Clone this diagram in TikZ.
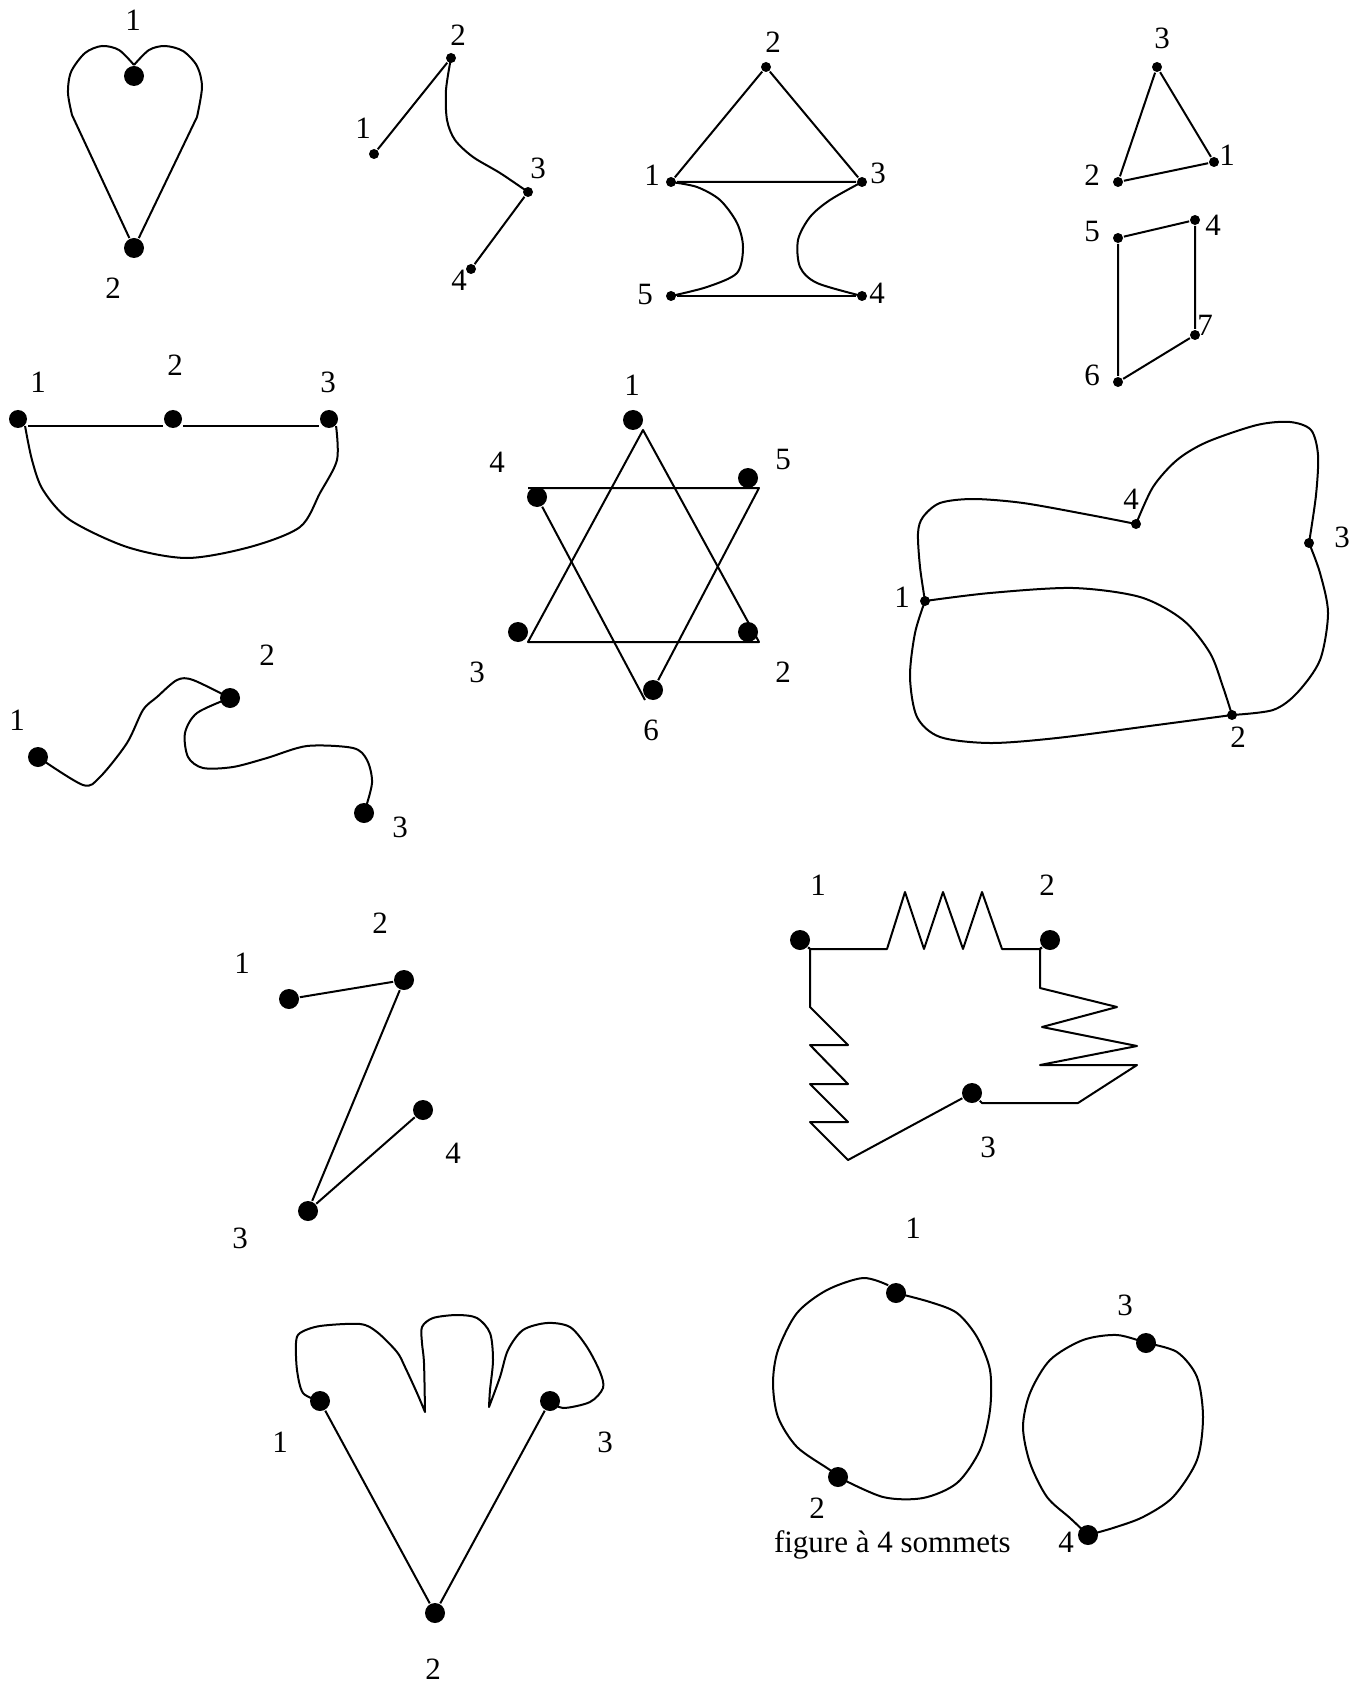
\documentclass[tikz,border=0pt]{standalone}
\usepackage{fontspec}
\setmainfont{Liberation Serif}
\tikzset{
    bigdot/.style={circle, fill, inner sep=0pt, minimum size=10pt},
    smalldot/.style={circle, fill, inner sep=0pt, minimum size=5pt},
    num/.style={inner sep=0pt, font=\fontsize{15.5}{18}\selectfont},
}

\begin{document}
\begin{tikzpicture}[x=0.5pt, y=-0.5pt, line width=1pt, line join=round]
    \useasboundingbox (0,0) rectangle (1364,1684);

    % heart
    \node[bigdot] (h1) at (134,76) {};
    \node[bigdot] (h2) at (134,248) {};
    \node[num] (h1l) at (133,20) {1};
    \node[num] (h2l) at (113,288) {2};
    \draw plot[smooth] coordinates {(h1.north) (119,50) (102,46) (85,53) (71,72) (68,93) (72,115)} -- (h2);
    \draw plot[smooth] coordinates {(h1.north) (149,50) (165,46) (183,51) (197,66) (202,87) (197,117)} -- (h2);

    % path 1-2-3-4
    \node[smalldot] (p1) at (374,154) {};
    \node[smalldot] (p2) at (451,58) {};
    \node[smalldot] (p3) at (528,192) {};
    \node[smalldot] (p4) at (471,269) {};
    \node[num] (p1l) at (363,128) {1};
    \node[num] (p2l) at (458,35) {2};
    \node[num] (p3l) at (538,168) {3};
    \node[num] (p4l) at (459,280) {4};
    \draw (p1) -- (p2);
    \draw plot[smooth] coordinates {(p2) (446,90) (447,120) (455,140) (473,157) (500,173) (p3)};
    \draw (p3) -- (p4);

    % triangle over hourglass
    \node[smalldot] (q1) at (671,182) {};
    \node[smalldot] (q2) at (766,67) {};
    \node[smalldot] (q3) at (862,182) {};
    \node[smalldot] (q4) at (862,296) {};
    \node[smalldot] (q5) at (671,296) {};
    \node[num] (q1l) at (652,175) {1};
    \node[num] (q2l) at (773,42) {2};
    \node[num] (q3l) at (878,173) {3};
    \node[num] (q4l) at (877,293) {4};
    \node[num] (q5l) at (645,295) {5};
    \draw (q1) -- (q2) -- (q3) -- (q1);
    \draw (q5) -- (q4);
    \draw plot[smooth] coordinates {(q1) (697,187) (720,200) (737,223) (743,247) (737,273) (707,287) (q5)};
    \draw plot[smooth] coordinates {(q3) (830,200) (810,217) (798,240) (800,267) (817,283) (q4)};

    % triangle and quadrilateral
    \node[smalldot] (r1) at (1214,162) {};
    \node[smalldot] (r2) at (1118,182) {};
    \node[smalldot] (r3) at (1157,67) {};
    \node[smalldot] (r4) at (1195,220) {};
    \node[smalldot] (r5) at (1118,238) {};
    \node[smalldot] (r6) at (1118,382) {};
    \node[smalldot] (r7) at (1195,335) {};
    \node[num] (r1l) at (1227,155) {1};
    \node[num] (r2l) at (1092,175) {2};
    \node[num] (r3l) at (1162,38) {3};
    \node[num] (r4l) at (1213,225) {4};
    \node[num] (r5l) at (1092,232) {5};
    \node[num] (r6l) at (1092,375) {6};
    \node[num] (r7l) at (1205,325) {7};
    \draw (r1) -- (r2) -- (r3) -- (r1);
    \draw (r5) -- (r4) -- (r7) -- (r6) -- (r5);

    % bowl
    \node[bigdot, minimum size=9pt] (s1) at (18,419) {};
    \node[bigdot, minimum size=9pt] (s2) at (173,419) {};
    \node[bigdot, minimum size=9pt] (s3) at (329,419) {};
    \node[num] (s1l) at (38,382) {1};
    \node[num] (s2l) at (175,365) {2};
    \node[num] (s3l) at (328,382) {3};
    \draw ([yshift=-3.5pt]s1.east) -- ([yshift=-3.5pt]s2.west);
    \draw ([yshift=-3.5pt]s2.east) -- ([yshift=-3.5pt]s3.west);
    \draw plot[smooth] coordinates {(s1.south east) (32,460) (43,490) (70,520) (127,547) (187,558) (250,547) (300,527) (320,493) (337,460) (s3.south east)};

    % star
    \node[bigdot] (t1) at (633,420) {};
    \node[bigdot] (t2) at (748,632) {};
    \node[bigdot] (t3) at (518,632) {};
    \node[bigdot] (t4) at (537,497) {};
    \node[bigdot] (t5) at (748,478) {};
    \node[bigdot] (t6) at (653,690) {};
    \node[num] (t1l) at (632,385) {1};
    \node[num] (t2l) at (783,672) {2};
    \node[num] (t3l) at (477,672) {3};
    \node[num] (t4l) at (497,462) {4};
    \node[num] (t5l) at (783,460) {5};
    \node[num] (t6l) at (651,730) {6};
    \coordinate (ta) at (643,430);
    \coordinate (tb) at (528,642);
    \coordinate (tc) at (759,642);
    \coordinate (td) at (528,488);
    \coordinate (te) at (759,488);
    \coordinate (tf) at (645,700);
    \draw (ta) -- (tb) -- (tc) -- cycle;
    \draw (td) -- (te) -- (t6);
    \draw (t4) -- (tf);

    % blob
    \node[smalldot] (b1) at (925,601) {};
    \node[smalldot] (b2) at (1232,715) {};
    \node[smalldot] (b3) at (1309,543) {};
    \node[smalldot] (b4) at (1136,524) {};
    \node[num] (b1l) at (902,597) {1};
    \node[num] (b2l) at (1238,737) {2};
    \node[num] (b3l) at (1342,537) {3};
    \node[num] (b4l) at (1131,499) {4};
    \draw plot[smooth] coordinates {(b1) (920,567) (918,533) (923,517) (940,503) (973,499) (1023,503) (1090,515) (b4)};
    \draw plot[smooth] coordinates {(b4) (1153,487) (1177,460) (1207,442) (1257,425) (1290,422) (1311,430) (1318,455) (1316,495) (b3)};
    \draw plot[smooth] coordinates {(b3) (1320,573) (1328,613) (1320,660) (1297,693) (1273,710) (b2)};
    \draw plot[smooth] coordinates {(b2) (1157,725) (1057,738) (990,743) (940,737) (917,717) (910,677) (915,633) (b1)};
    \draw plot[smooth] coordinates {(b1) (990,593) (1073,588) (1140,597) (1183,620) (1210,653) (1223,687) (b2)};

    % wave
    \node[bigdot] (w1) at (38,757) {};
    \node[bigdot] (w2) at (230,698) {};
    \node[bigdot] (w3) at (364,813) {};
    \node[num] (w1l) at (17,720) {1};
    \node[num] (w2l) at (267,655) {2};
    \node[num] (w3l) at (400,827) {3};
    \draw plot[smooth] coordinates {(w1) (83,785) (100,777) (127,743) (143,710) (157,697) (177,680) (193,680) (w2)};
    \draw plot[smooth] coordinates {(w2) (197,713) (185,733) (188,757) (203,768) (233,767) (267,758) (307,746) (353,748) (367,760) (372,783) (w3)};

    % z shape
    \node[bigdot] (k1) at (289,999) {};
    \node[bigdot] (k2) at (404,980) {};
    \node[bigdot] (k3) at (308,1211) {};
    \node[bigdot] (k4) at (423,1110) {};
    \node[num] (k1l) at (242,963) {1};
    \node[num] (k2l) at (380,923) {2};
    \node[num] (k3l) at (240,1238) {3};
    \node[num] (k4l) at (453,1153) {4};
    \draw (k1) -- (k2) -- (k3) -- (k4);

    % zigzags
    \node[bigdot] (g1) at (800,940) {};
    \node[bigdot] (g2) at (1050,940) {};
    \node[bigdot] (g3) at (972,1093) {};
    \node[num] (g1l) at (818,885) {1};
    \node[num] (g2l) at (1047,885) {2};
    \node[num] (g3l) at (988,1147) {3};
    \draw (g1) -- (810,949) -- (887,949) -- (905,892) -- (924,949) -- (943,892) -- (963,949)
        -- (982,892) -- (1002,949) -- (1040,949) -- (g2);
    \draw (g2) -- (1040,949) -- (1040,988) -- (1117,1007) -- (1042,1027) -- (1137,1046)
        -- (1040,1065) -- (1137,1065) -- (1078,1103) -- (982,1103) -- (g3);
    \draw (g1) -- (810,949) -- (810,1007) -- (848,1045) -- (810,1045) -- (848,1084) -- (810,1084)
        -- (848,1122) -- (810,1122) -- (848,1160) -- (g3);

    % hand
    \node[bigdot] (f1) at (320,1401) {};
    \node[bigdot] (f2) at (435,1613) {};
    \node[bigdot] (f3) at (550,1401) {};
    \node[num] (f1l) at (280,1442) {1};
    \node[num] (f2l) at (433,1669) {2};
    \node[num] (f3l) at (605,1442) {3};
    \draw (f1) -- (f2);
    \draw (f3) -- (f2);
    \draw plot[smooth] coordinates {(f1) (303,1393) (297,1370) (296,1343) (300,1333) (320,1326) (360,1324) (377,1332) (397,1352) (405,1367) (417,1393) (425,1412)}
        -- plot[smooth] coordinates {(425,1412) (424,1363) (422,1343) (422,1327) (433,1318) (457,1315) (477,1318) (490,1333) (493,1360) (490,1390) (489,1407)}
        -- plot[smooth] coordinates {(489,1407) (500,1377) (508,1350) (523,1330) (547,1323) (570,1327) (587,1347) (600,1372) (603,1388) (590,1402) (563,1408) (f3)};

    % two loops
    \node[bigdot] (c1) at (896,1293) {};
    \node[bigdot] (c2) at (838,1477) {};
    \node[bigdot] (c3) at (1146,1343) {};
    \node[bigdot] (c4) at (1088,1535) {};
    \node[num] (c1l) at (913,1228) {1};
    \node[num] (c2l) at (817,1508) {2};
    \node[num] (c3l) at (1125,1305) {3};
    \node[num] (c4l) at (1066,1542) {4};
    \draw plot[smooth] coordinates {(c1.north west) (863,1278) (827,1290) (797,1313) (778,1350) (773,1383) (778,1417) (797,1447) (830,1470) (c2)};
    \draw plot[smooth] coordinates {(c2) (883,1497) (923,1498) (957,1483) (980,1450) (990,1410) (990,1370) (977,1337) (957,1313) (930,1302) (c1)};
    \draw plot[smooth] coordinates {(c3) (1117,1335) (1083,1340) (1050,1360) (1030,1393) (1023,1427) (1030,1463) (1047,1497) (1070,1518) (c4)};
    \draw plot[smooth] coordinates {(c4) (1113,1528) (1143,1517) (1173,1497) (1197,1460) (1203,1417) (1197,1377) (1177,1352) (c3)};
    \node[num, anchor=west] (cap) at (773,1545) {figure à 4 sommets};
\end{tikzpicture}
\end{document}
